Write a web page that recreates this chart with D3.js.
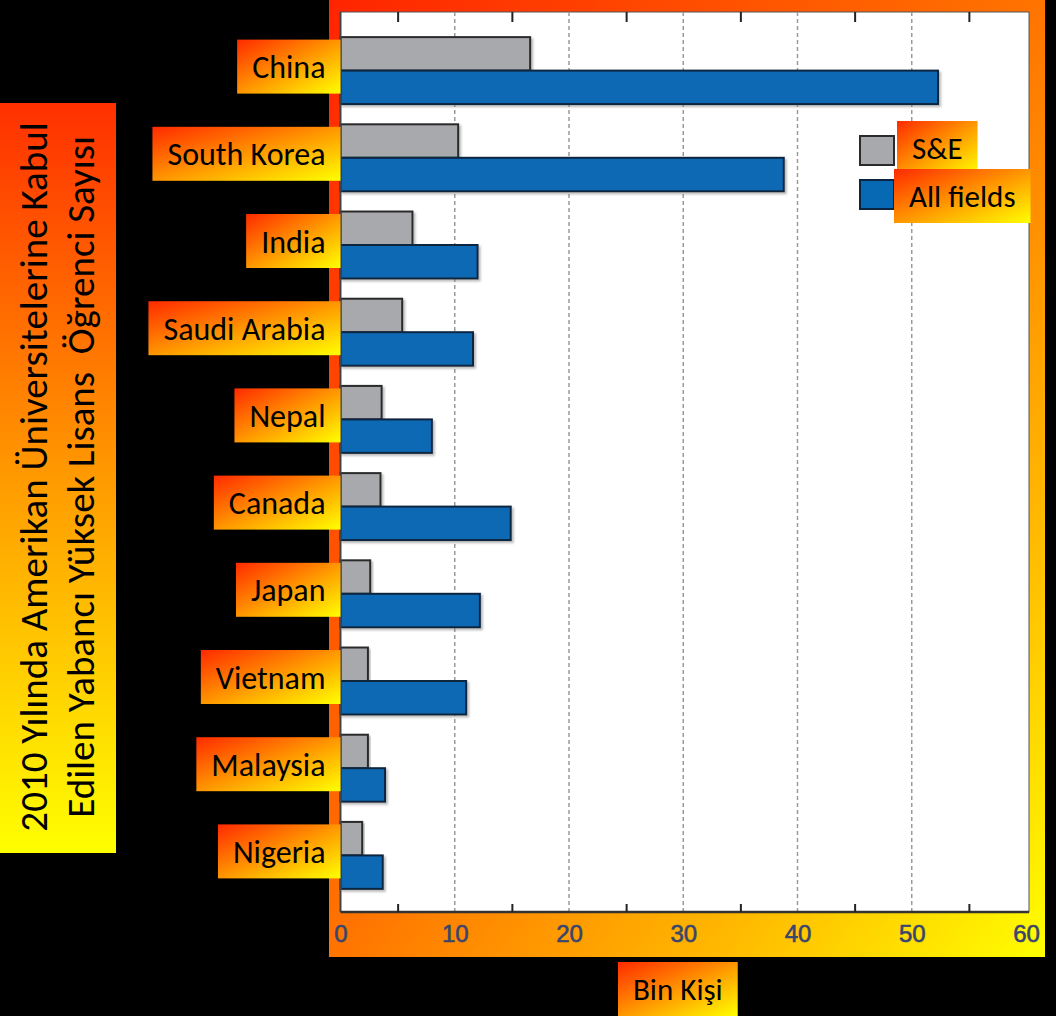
<!DOCTYPE html>
<html>
<head>
<meta charset="utf-8">
<script src="https://cdn.jsdelivr.net/npm/d3@7"></script>
<style>
  body { margin: 0; background: #000; }
  svg { display: block; }
</style>
</head>
<body>
<svg id="chart" width="1056" height="1016"></svg>
<script>
// + -- data (thousands of students) ------------------------------------------ +
const countries = ['China', 'South Korea', 'India', 'Saudi Arabia', 'Nepal',
  'Canada', 'Japan', 'Vietnam', 'Malaysia', 'Nigeria']
const seValues = [16.6, 10.3, 6.3, 5.4, 3.6, 3.5, 2.6, 2.4, 2.4, 1.9]
const allValues = [52.3, 38.8, 12.0, 11.6, 8.0, 14.9, 12.2, 11.0, 3.9, 3.7]
const seriesNames = ['S&E', 'All fields']
const xTicks = [0, 10, 20, 30, 40, 50, 60]
const minorTicks = [5, 15, 25, 35, 45, 55]
const yTitleLines = ['2010 Yılında Amerikan Üniversitelerine Kabul',
  'Edilen Yabancı Yüksek Lisans  Öğrenci Sayısı']
const xTitle = 'Bin Kişi'

const FONT = 'Carlito, Calibri, Lato, sans-serif'
const GRAY = '#a7a9ac'
const BLUE = '#0769b4'

let svg = d3.select('#chart')
let defs = svg.append('defs')

// + -- gradients ------------------------------------------------------------- +
function addGradient (id, x2, y2, stops) {
  let g = defs.append('linearGradient')
        .attr('id', id)
        .attr('x1', 0).attr('y1', 0)
        .attr('x2', x2).attr('y2', y2)
  stops.forEach(s => {
    g.append('stop').attr('offset', s[0]).attr('stop-color', s[1])
  })
}
addGradient('frameGrad', 1, 1, [[0, '#ff2400'], [0.5, '#ff7400'], [0.78, '#ffbc00'], [1, '#ffff00']])
addGradient('boxGrad', 1, 1, [[0, '#ff2a00'], [0.55, '#ffa000'], [1, '#ffff00']])
addGradient('vertGrad', 0, 1, [[0, '#ff3000'], [0.5, '#ff9a00'], [1, '#ffff00']])

let shadow = defs.append('filter').attr('id', 'shadow')
      .attr('x', '-5%').attr('y', '-20%').attr('width', '115%').attr('height', '150%')
shadow.append('feDropShadow')
      .attr('dx', 2).attr('dy', 2).attr('stdDeviation', 1)
      .attr('flood-color', '#777').attr('flood-opacity', 0.5)

// + -- scales ---------------------------------------------------------------- +
const plot = {left: 340.5, top: 12, right: 1029, bottom: 912}

let x = d3.scaleLinear().domain([0, 60]).range([plot.left, 1026])
let y = d3.scaleBand().domain(countries).range([27, 899])
      .paddingInner(0.232).paddingOuter(0.116)
let ySub = d3.scaleBand().domain(seriesNames).range([0, y.bandwidth()])

// + -- frame and plot area --------------------------------------------------- +
svg.append('rect')
      .attr('x', 329).attr('y', 0)
      .attr('width', 1045 - 329).attr('height', 957)
      .attr('fill', 'url(#frameGrad)')

svg.append('rect')
      .attr('x', plot.left).attr('y', plot.top)
      .attr('width', plot.right - plot.left).attr('height', plot.bottom - plot.top)
      .attr('fill', '#fff')
      .attr('stroke', '#555')
      .attr('stroke-width', 1)

// gridlines at the major ticks
svg.append('g')
      .selectAll('line')
      .data(xTicks.filter(d => d > 0 && d < 60))
      .join('line')
      .attr('x1', d => x(d)).attr('x2', d => x(d))
      .attr('y1', plot.top).attr('y2', plot.bottom)
      .attr('stroke', '#9a9a9a')
      .attr('stroke-width', 1.5)
      .attr('stroke-dasharray', '4,3')

// + -- bars ------------------------------------------------------------------ +
let groups = svg.append('g')
      .selectAll('g')
      .data(countries)
      .join('g')
      .attr('transform', d => 'translate(0,' + y(d) + ')')

groups.append('rect')
      .attr('x', x(0))
      .attr('y', ySub('S&E'))
      .attr('width', (d, i) => x(seValues[i]) - x(0))
      .attr('height', ySub.bandwidth())
      .attr('fill', GRAY)
      .attr('stroke', '#2b2b2b')
      .attr('stroke-width', 2)
      .attr('filter', 'url(#shadow)')

groups.append('rect')
      .attr('x', x(0))
      .attr('y', ySub('All fields'))
      .attr('width', (d, i) => x(allValues[i]) - x(0))
      .attr('height', ySub.bandwidth())
      .attr('fill', BLUE)
      .attr('stroke', '#0b2540')
      .attr('stroke-width', 2)
      .attr('filter', 'url(#shadow)')

// left axis line
svg.append('line')
      .attr('x1', plot.left).attr('x2', plot.left)
      .attr('y1', plot.top).attr('y2', plot.bottom)
      .attr('stroke', '#444').attr('stroke-width', 2)

// + -- x axis ---------------------------------------------------------------- +
let xAxis = d3.axisBottom(x)
      .tickValues(xTicks)
      .tickSize(0)
      .tickPadding(13)
      .tickFormat(d3.format('d'))

let gx = svg.append('g')
      .attr('transform', 'translate(0,' + plot.bottom + ')')
      .call(xAxis)
gx.select('.domain')
      .attr('d', 'M' + plot.left + ',0H' + plot.right)
      .attr('stroke', '#333')
      .attr('stroke-width', 2.5)
gx.selectAll('text')
      .attr('font-family', 'Liberation Sans, Helvetica, Arial, sans-serif')
      .attr('font-size', 24)
      .attr('fill', '#3a456e')
      .attr('stroke', '#3a456e')
      .attr('stroke-width', 0.6)

// minor ticks pointing inward, bottom and top
svg.append('g')
      .attr('transform', 'translate(0,' + plot.bottom + ')')
      .call(d3.axisBottom(x).tickValues(minorTicks).tickSize(-8).tickFormat(''))
      .call(g => g.select('.domain').remove())
      .selectAll('line').attr('stroke', '#222').attr('stroke-width', 2)

svg.append('g')
      .attr('transform', 'translate(0,' + plot.top + ')')
      .call(d3.axisTop(x).tickValues(minorTicks).tickSize(-10).tickFormat(''))
      .call(g => g.select('.domain').remove())
      .selectAll('line').attr('stroke', '#222').attr('stroke-width', 2)

// + -- gradient label boxes -------------------------------------------------- +
function labelBox (parent, text, size, anchorX, cy, align) {
  // align: 'end' means the box ends at anchorX, 'start' means it starts there
  let g = parent.append('g')
  let box = g.append('rect').attr('fill', 'url(#boxGrad)')
  let t = g.append('text')
        .text(text)
        .attr('font-family', FONT)
        .attr('font-size', size)
        .attr('fill', '#000')
        .attr('y', cy + size * 0.36)
  let w = t.node().getComputedTextLength()
  let pad = 15
  let left = align === 'end' ? anchorX - w - 2 * pad : anchorX
  t.attr('x', left + pad)
  box.attr('x', left).attr('y', cy - 27)
        .attr('width', w + 2 * pad).attr('height', 54)
  return g
}

let labels = svg.append('g')
countries.forEach(c => {
  labelBox(labels, c, 32, plot.left, y(c) + y.bandwidth() / 2 - 4, 'end')
})

// + -- legend ---------------------------------------------------------------- +
let legend = svg.append('g')
let legendRows = [
  {name: seriesNames[0], fill: GRAY, stroke: '#2b2b2b', top: 136, boxX: 897, cy: 148},
  {name: seriesNames[1], fill: BLUE, stroke: '#0b2540', top: 180, boxX: 894, cy: 196}
]
legendRows.forEach(r => {
  legend.append('rect')
        .attr('x', 860).attr('y', r.top)
        .attr('width', 34).attr('height', 29)
        .attr('fill', r.fill)
        .attr('stroke', r.stroke)
        .attr('stroke-width', 2)
  labelBox(legend, r.name, 31, r.boxX, r.cy, 'start')
})

// + -- axis titles ----------------------------------------------------------- +
svg.append('rect')
      .attr('x', 0).attr('y', 103)
      .attr('width', 116).attr('height', 750)
      .attr('fill', 'url(#vertGrad)')

let yTitle = svg.append('text')
      .attr('transform', 'translate(58,477) rotate(-90)')
      .attr('text-anchor', 'middle')
      .attr('font-family', FONT)
      .attr('font-size', 39)
      .attr('fill', '#000')
yTitleLines.forEach((line, i) => {
  yTitle.append('tspan')
        .attr('x', 0)
        .attr('y', i === 0 ? -11 : 36)
        .attr('xml:space', 'preserve')
        .style('white-space', 'pre')
        .text(line)
})

labelBox(svg, xTitle, 31, 618, 989, 'start')
</script>
</body>
</html>
